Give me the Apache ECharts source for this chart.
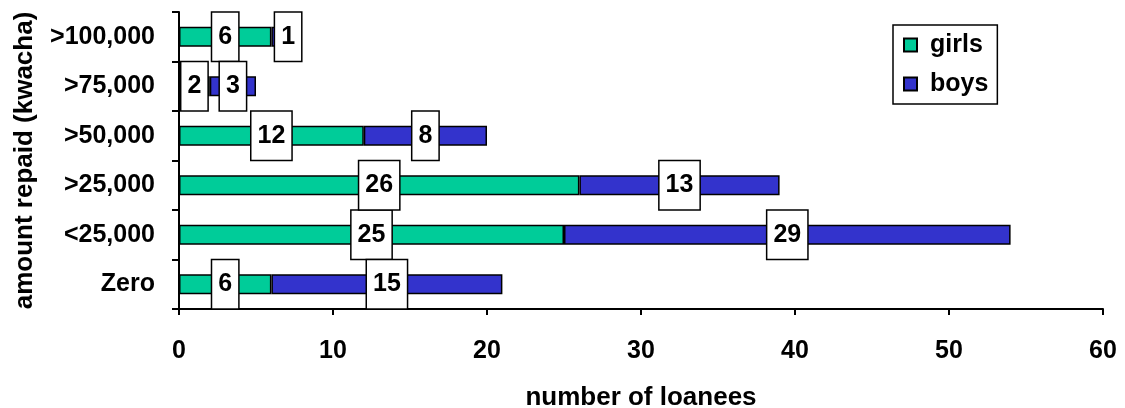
<!DOCTYPE html>
<html>
<head>
<meta charset="utf-8">
<script src="https://cdn.jsdelivr.net/npm/echarts@6/dist/echarts.min.js"></script>
<style>html,body{margin:0;padding:0;background:#fff}#c{width:1125px;height:408px}</style>
</head>
<body>
<div id="c"></div>
<script>
const categories = ['Zero', '<25,000', '>25,000', '>50,000', '>75,000', '>100,000'];
const girls = [6, 25, 26, 12, 2, 6];
const boys = [15, 29, 13, 8, 3, 1];
const xTicks = [0, 10, 20, 30, 40, 50, 60];

const FONT = '"Liberation Sans", Arial, sans-serif';
const labelStyle = {
  show: true, position: 'inside', color: '#000', fontFamily: FONT,
  fontSize: 25, fontWeight: 'bold', lineHeight: 28,
  backgroundColor: '#fff', borderColor: '#000', borderWidth: 1.5,
  padding: [10, 6]
};
const chart = echarts.init(document.getElementById('c'));
chart.setOption({
  animation: false,
  textStyle: { fontFamily: FONT },
  grid: { left: 179, right: 22, top: 12, bottom: 99, containLabel: false, outerBoundsMode: 'none' },
  legend: {
    orient: 'vertical', left: 893, top: 25,
    data: ['girls', 'boys'],
    borderColor: '#000', borderWidth: 1.5, padding: [6, 9, 6, 10],
    itemWidth: 13, itemHeight: 13, itemGap: 11,
    textStyle: { fontFamily: FONT, fontSize: 25, fontWeight: 'bold', color: '#000', lineHeight: 28, padding: [0, 0, 0, 8] },
    icon: 'rect'
  },
  xAxis: {
    type: 'value', min: xTicks[0], max: xTicks[xTicks.length - 1], interval: 10,
    name: 'number of loanees', nameLocation: 'middle', nameGap: 76,
    nameTextStyle: { fontFamily: FONT, fontSize: 26, fontWeight: 'bold', color: '#000' },
    axisLine: { show: true, lineStyle: { color: '#000', width: 2 } },
    axisTick: { show: true, length: 6, lineStyle: { color: '#000', width: 2 } },
    axisLabel: { fontFamily: FONT, fontSize: 25, fontWeight: 'bold', color: '#000', margin: 30 },
    splitLine: { show: false }
  },
  yAxis: {
    type: 'category', data: categories,
    name: 'amount repaid (kwacha)', nameLocation: 'middle', nameGap: 141, nameRotate: 90,
    nameTextStyle: { fontFamily: FONT, fontSize: 26, fontWeight: 'bold', color: '#000' },
    axisLine: { show: true, lineStyle: { color: '#000', width: 2 } },
    axisTick: { show: true, length: 7, lineStyle: { color: '#000', width: 2 } },
    axisLabel: { fontFamily: FONT, fontSize: 25, fontWeight: 'bold', color: '#000', margin: 24 }
  },
  series: [
    {
      name: 'girls', type: 'bar', stack: 'a', barWidth: 20,
      itemStyle: { color: '#00CC99', borderColor: '#000', borderWidth: 1.5 },
      label: labelStyle,
      data: girls
    },
    {
      name: 'boys', type: 'bar', stack: 'a', barWidth: 20,
      itemStyle: { color: '#3333CC', borderColor: '#000', borderWidth: 1.5 },
      label: labelStyle,
      data: boys.map((v, i) => i === 5 ? { value: v, label: { offset: [9, 0] } } : v)
    }
  ]
});
</script>
</body>
</html>
